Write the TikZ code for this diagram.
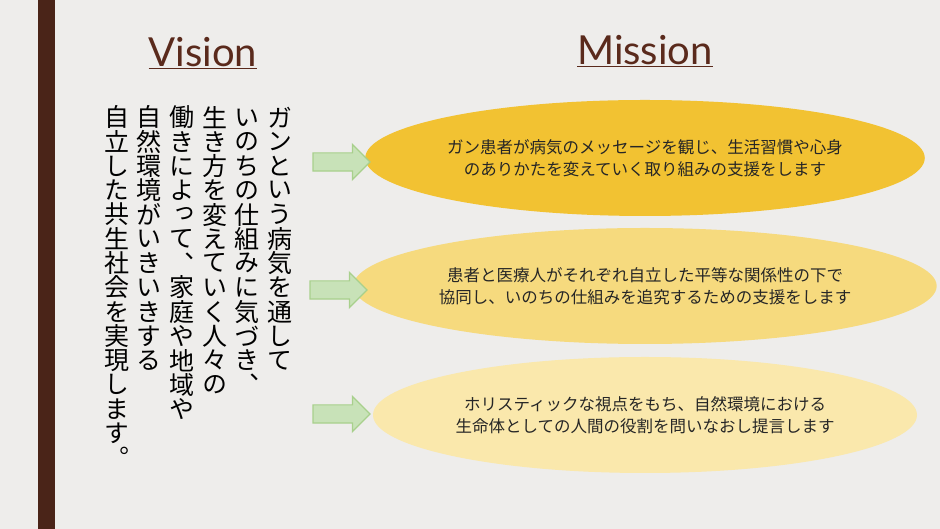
\documentclass[tikz,border=0pt]{standalone}
\usepackage{fontspec}
\setmainfont{Lato}
\newfontfamily\jp{Noto Sans CJK JP}
\newfontfamily\jpv[RawFeature=+vert]{Noto Sans CJK JP}
\usetikzlibrary{shapes.arrows}
\definecolor{bg}{HTML}{EEEDEB}
\definecolor{brn}{HTML}{4A2418}
\definecolor{ttl}{HTML}{5A2A1C}
\definecolor{ea}{HTML}{F2C232}
\definecolor{eb}{HTML}{F6DA7E}
\definecolor{ec}{HTML}{FAE8AC}
\definecolor{af}{HTML}{C8E2B8}
\definecolor{ad}{HTML}{A8D08C}
\makeatletter
\def\vtl#1{\ifx\relax#1\else\hbox to 26pt{\hss\vbox to 24.3pt{\vss\hbox{#1}\vss}\hss}\expandafter\vtl\fi}
\newcommand\vcol[1]{\vtop{\offinterlineskip\vtl#1\relax}}
\makeatother
\tikzset{
 ell/.style={ellipse, minimum width=544pt, minimum height=116pt, inner sep=0pt, align=center, font=\jp\fontsize{16.5}{22}\selectfont, text=black!85},
 arr/.style={single arrow, draw=ad, fill=af, line width=1.2pt, minimum height=57pt, inner sep=0pt, single arrow head extend=8.5pt, single arrow tip angle=90, text height=17pt, text width=1pt},
 vcl/.style={anchor=north, inner sep=0pt, font=\jpv\fontsize{25}{25}\selectfont},
 ttlf/.style={text=ttl, font=\fontsize{40}{40}\selectfont}
}
\usetikzlibrary{shapes.geometric}
\begin{document}
\begin{tikzpicture}[x=1pt,y=1pt]
\fill[bg] (0,0) rectangle (940,529);
\useasboundingbox (0,0) rectangle (940,529);
\fill[brn] (38,0) rectangle (55,529);
\node[ttlf] (vis) at (203,476) {\underline{Vision}};
\node[ttlf] (mis) at (645,478) {\underline{Mission}};
\node[vcl] (c1) at (280,424) {\vcol{ガンという病気を通して}};
\node[vcl] (c2) at (247,424) {\vcol{いのちの仕組みに気づき、}};
\node[vcl] (c3) at (215,424) {\vcol{生き方を変えていく人々の}};
\node[vcl] (c4) at (182,424) {\vcol{働きによって、家庭や地域や}};
\node[vcl] (c5) at (149,424) {\vcol{自然環境がいきいきする}};
\node[vcl] (c6) at (117,424) {\vcol{自立した共生社会を実現します。}};
\node[ell, fill=ea] (e1) at (645,371) {ガン患者が病気のメッセージを観じ、生活習慣や心身\\のありかたを変えていく取り組みの支援をします};
\node[ell, fill=eb] (e2) at (645,243) {患者と医療人がそれぞれ自立した平等な関係性の下で\\協同し、いのちの仕組みを追究するための支援をします};
\node[ell, fill=ec] (e3) at (645,114) {ホリスティックな視点をもち、自然環境における\\生命体としての人間の役割を問いなおし提言します};
\node[arr] (a1) at (337,367) {};
\node[arr] (a2) at (334,239) {};
\node[arr] (a3) at (337,115) {};
\end{tikzpicture}
\end{document}
